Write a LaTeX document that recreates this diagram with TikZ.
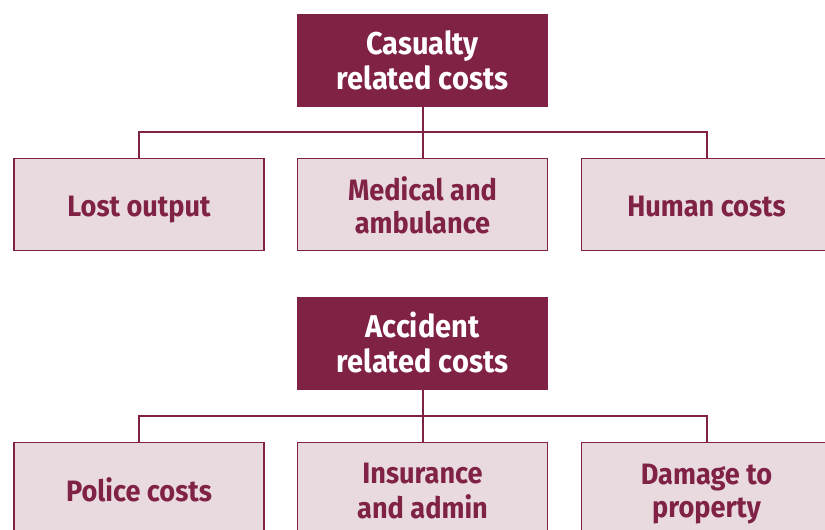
\documentclass[tikz,border=0pt]{standalone}
\usepackage{fontspec}
\setmainfont{Fira Sans}[FakeStretch=0.92]
\definecolor{maroon}{RGB}{128,33,70}
\definecolor{pinkfill}{RGB}{232,218,222}
\begin{document}
\begin{tikzpicture}[x=1pt,y=-1pt,
  headbox/.style={fill=maroon,draw=none,minimum width=251pt,minimum height=93pt,inner sep=0pt},
  headtext/.style={text=white,align=center,inner sep=0pt,font=\fontsize{31.5}{35}\selectfont\bfseries},
  leafbox/.style={fill=pinkfill,draw=maroon,line width=1.3pt,minimum width=250pt,minimum height=92pt,inner sep=0pt},
  leaftext/.style={text=maroon,align=center,inner sep=0pt,font=\fontsize{29.5}{33}\selectfont\bfseries},
  conn/.style={draw=maroon,line width=2pt}]
\useasboundingbox (0,0) rectangle (825,530);
% first group
\node[headbox] (top1) at (422.5,60.5) {};
\node[headtext] (top1t) at (422.5,64.5) {\strut Casualty\\\strut related costs};
\node[leafbox] (l1) at (139,204.5) {};
\node[leafbox] (m1) at (422.5,204.5) {};
\node[leafbox] (r1) at (706.5,204.5) {};
\node[leaftext] (l1t) at (139,210) {\strut Lost output};
\node[leaftext] (m1t) at (422.5,210) {\strut Medical and\\\strut ambulance};
\node[leaftext] (r1t) at (706.5,210) {\strut Human costs};
\draw[conn] (top1.south) -- (m1.north);
\draw[conn] (l1.north) -- ++(0,-26) -| (r1.north);
% second group
\node[headbox] (top2) at (422.5,343.5) {};
\node[headtext] (top2t) at (422.5,347.5) {\strut Accident\\\strut related costs};
\node[leafbox] (l2) at (139,488.5) {};
\node[leafbox] (m2) at (422.5,488.5) {};
\node[leafbox] (r2) at (706.5,488.5) {};
\node[leaftext] (l2t) at (139,494) {\strut Police costs};
\node[leaftext] (m2t) at (422.5,494) {\strut Insurance\\\strut and admin};
\node[leaftext] (r2t) at (706.5,494) {\strut Damage to\\\strut property};
\draw[conn] (top2.south) -- (m2.north);
\draw[conn] (l2.north) -- ++(0,-26) -| (r2.north);
\end{tikzpicture}
\end{document}
